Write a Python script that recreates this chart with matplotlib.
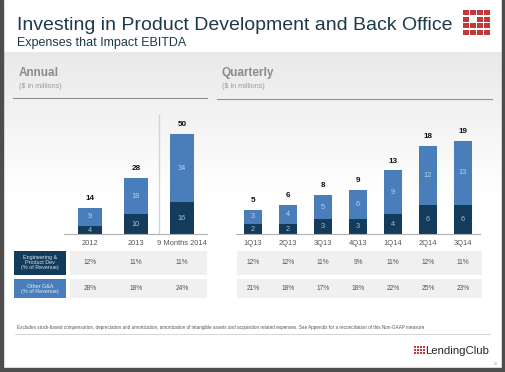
import matplotlib.pyplot as plt
from matplotlib.patches import Rectangle
import numpy as np

plt.rcParams['font.family'] = ['Liberation Sans', 'DejaVu Sans']

# data
annual_cats = ['2012', '2013', '9 Months 2014']
annual_eng = [4, 10, 16]
annual_other = [9, 18, 34]
annual_total = [14, 28, 50]

q_cats = ['1Q13', '2Q13', '3Q13', '4Q13', '1Q14', '2Q14', '3Q14']
q_eng = [2, 2, 3, 3, 4, 6, 6]
q_other = [3, 4, 5, 6, 9, 12, 13]
q_total = [5, 6, 8, 9, 13, 18, 19]

annual_eng_pct = ['12%', '11%', '11%']
annual_other_pct = ['28%', '18%', '24%']
q_eng_pct = ['12%', '12%', '11%', '9%', '11%', '12%', '11%']
q_other_pct = ['21%', '18%', '17%', '18%', '22%', '25%', '23%']

dark = '#133c5c'
light = '#4a7ebb'
red = '#c0393b'
W, H = 505, 372

fig = plt.figure(figsize=(5.05, 3.72), dpi=100)
ax0 = fig.add_axes([0, 0, 1, 1])
ax0.set_xlim(0, W)
ax0.set_ylim(H, 0)
ax0.axis('off')

# background gradient of the slide body
g = np.linspace(0, 1, 200)
shade = np.clip(0.915 + 0.085 * g / 0.45, 0, 1)
img = np.dstack([shade] * 3).reshape(200, 1, 3)
ax0.imshow(img, extent=[3, 502, 368, 52], aspect='auto', origin='upper', zorder=0)

# frame
for r in [(0, 0, 3, H), (502, 0, 3, H), (0, 368, W, 4)]:
    ax0.add_patch(Rectangle((r[0], r[1]), r[2], r[3], color='#4d4d4d', zorder=5))

# title
ax0.text(17, 25, 'Investing in Product Development and Back Office', fontsize=14,
         color='#1d3a4a', va='center', ha='left')
ax0.text(17, 43, 'Expenses that Impact EBITDA', fontsize=9, color='#1d3a4a',
         va='center', ha='left')

# red grid logo
for row in range(4):
    for col in range(4):
        if row == 1 and col == 1:
            continue
        ax0.add_patch(Rectangle((463 + col * 7, 10 + row * 6.6), 5.5, 5, color=red, lw=0))

# section headers
ax0.text(19, 73, 'Annual', fontsize=8.5, fontweight='bold', color='#8c8c8c', va='center')
ax0.text(19, 86, '($ in millions)', fontsize=5.2, color='#9a9a9a', va='center')
ax0.text(222, 73, 'Quarterly', fontsize=8.5, fontweight='bold', color='#8c8c8c', va='center')
ax0.text(222, 86, '($ in millions)', fontsize=5.2, color='#9a9a9a', va='center')
ax0.plot([13, 207], [98, 98], color='#8f8f8f', lw=0.8)
ax0.plot([217, 492], [99, 99], color='#8f8f8f', lw=0.8)


def chart(cats, eng, other, total, left, right, c0, step, ppu):
    bottom = 234
    top = 110
    ax = fig.add_axes([left / W, (H - bottom) / H, (right - left) / W, (bottom - top) / H])
    ax.patch.set_alpha(0)
    x = np.arange(len(cats))
    ax.bar(x, eng, width=0.54, color=dark)
    ax.bar(x, other, bottom=eng, width=0.54, color=light)
    ax.set_xlim((left - c0) / step, (right - c0) / step)
    ax.set_ylim(0, (bottom - top) / ppu)
    for i in x:
        ax.text(i, eng[i] / 2, str(eng[i]), ha='center', va='center', fontsize=5.3, color='#9fbde0')
        ax.text(i, eng[i] + other[i] / 2, str(other[i]), ha='center', va='center', fontsize=5.3,
                color='#b9d0ec')
        ax.text(i, eng[i] + other[i] + 9 / ppu, str(total[i]), ha='center', va='center', fontsize=5.9,
                fontweight='bold', color='#111111')
    for s in ['top', 'left', 'right']:
        ax.spines[s].set_visible(False)
    ax.spines['bottom'].set_color('#b0b0b0')
    ax.spines['bottom'].set_linewidth(0.8)
    ax.set_yticks([])
    ax.set_xticks(x)
    ax.set_xticklabels(cats, fontsize=5.4, color='#555555')
    ax.tick_params(axis='x', length=0, pad=4.5)
    return ax


axa = chart(annual_cats, annual_eng, annual_other, annual_total, 64, 207, 90, 46, 2.0)
axa.axvline(1.5, ymin=0, ymax=0.96, color='#d5d5d5', lw=1)
axq = chart(q_cats, q_eng, q_other, q_total, 236, 480, 253, 35, 4.9)

# table
ax0.add_patch(Rectangle((14, 251), 52, 24, color=dark, lw=0))
ax0.text(40, 263, 'Engineering &\nProduct Dev\n(% of Revenue)', fontsize=3.9, color='#d8e4f0',
         ha='center', va='center', linespacing=1.0)
ax0.add_patch(Rectangle((14, 279), 52, 19, color=light, lw=0))
ax0.text(40, 288.5, 'Other G&A\n(% of Revenue)', fontsize=3.9, color='#e4edf7',
         ha='center', va='center', linespacing=1.0)
for (x0, x1) in [(70, 207), (237, 482)]:
    ax0.add_patch(Rectangle((x0, 251), x1 - x0, 24, color='#f0f0f0', lw=0))
    ax0.add_patch(Rectangle((x0, 279), x1 - x0, 19, color='#f0f0f0', lw=0))
for i in range(len(annual_cats)):
    ax0.text(90 + 46 * i, 263, annual_eng_pct[i], fontsize=4.8, color='#555555', ha='center', va='center')
    ax0.text(90 + 46 * i, 288.5, annual_other_pct[i], fontsize=4.8, color='#555555', ha='center', va='center')
for i in range(len(q_cats)):
    ax0.text(253 + 35 * i, 263, q_eng_pct[i], fontsize=4.8, color='#555555', ha='center', va='center')
    ax0.text(253 + 35 * i, 288.5, q_other_pct[i], fontsize=4.8, color='#555555', ha='center', va='center')

# footnote
ax0.text(17, 327, 'Excludes stock-based compensation, depreciation and amortization, amortization of '
         'intangible assets and acquisition related expenses. See Appendix for a reconciliation '
         'of this Non-GAAP measure', fontsize=3.3, color='#555555', va='center')
ax0.plot([15, 490], [334, 334], color='#cfcfcf', lw=0.6)

# LendingClub logo
for row in range(3):
    for col in range(4):
        ax0.add_patch(Rectangle((413.5 + col * 3, 345.5 + row * 3.3), 2.2, 2.3, color=red, lw=0))
ax0.text(425, 351, 'LendingClub', fontsize=8.2, color='#262626', va='center', ha='left')
ax0.text(494, 364, '20', fontsize=2.5, color='#999999', va='center')

fig.savefig('out.png', dpi=100)
